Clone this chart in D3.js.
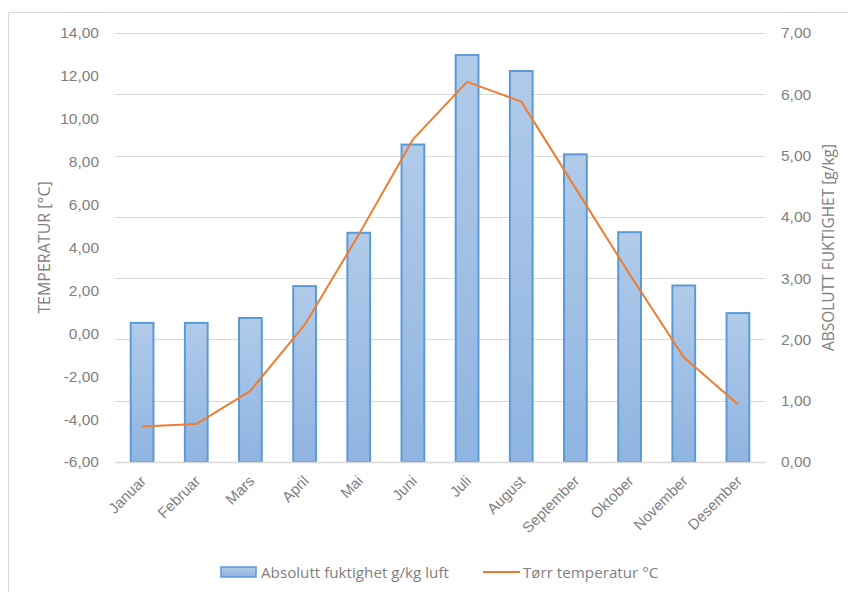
<!DOCTYPE html>
<html>
<head>
<meta charset="utf-8">
<script src="https://cdn.jsdelivr.net/npm/d3@7"></script>
<style>
  html, body { margin: 0; padding: 0; background: #fff; }
  svg { display: block; font-family: "Open Sans", "Noto Sans", sans-serif; }
</style>
</head>
<body>
<svg id="chart" width="848" height="592"></svg>
<script>
// Monthly climate data
const months = ["Januar", "Februar", "Mars", "April", "Mai", "Juni", "Juli",
                "August", "September", "Oktober", "November", "Desember"];
// Absolute humidity, g/kg air (right axis)
const humidity = [2.27, 2.27, 2.35, 2.87, 3.74, 5.18, 6.64, 6.38, 5.02, 3.75, 2.88, 2.43];
// Dry-bulb temperature, °C (left axis)
const temperature = [-4.35, -4.23, -2.68, 0.39, 4.6, 9.04, 11.72, 10.8, 6.78, 2.75, -1.12, -3.31];
// Axis ticks
const leftTicks = [-6, -4, -2, 0, 2, 4, 6, 8, 10, 12, 14];
const rightTicks = [0, 1, 2, 3, 4, 5, 6, 7];

const seriesNames = ["Absolutt fuktighet g/kg luft", "Tørr temperatur °C"];
const axisTitles = ["TEMPERATUR [°C]", "ABSOLUTT FUKTIGHET [g/kg]"];

const fmt = v => d3.format(".2f")(v).replace(".", ",").replace("−", "-");

const svg = d3.select("#chart");
const plot = { left: 115, right: 765, top: 33, bottom: 462 };
const textColor = "#7f7f7f";
const gridColor = "#d9d9d9";

// Outer chart frame
svg.append("rect")
  .attr("x", 8.5).attr("y", 12.5)
  .attr("width", 860).attr("height", 600)
  .attr("fill", "#fff").attr("stroke", "#d9d9d9").attr("stroke-width", 1);

const x = d3.scaleBand().domain(months).range([plot.left, plot.right]).padding(0);
const yL = d3.scaleLinear().domain([-6, 14]).range([plot.bottom, plot.top]);
const yR = d3.scaleLinear().domain([0, 7]).range([plot.bottom, plot.top]);

// Gradient for the bars
const defs = svg.append("defs");
const grad = defs.append("linearGradient")
  .attr("id", "barGrad").attr("x1", 0).attr("y1", 0).attr("x2", 0).attr("y2", 1);
grad.append("stop").attr("offset", "0%").attr("stop-color", "#b1cbe9");
grad.append("stop").attr("offset", "100%").attr("stop-color", "#8fb4e1");

// Horizontal gridlines follow the right axis ticks
svg.append("g")
  .selectAll("line")
  .data(rightTicks)
  .join("line")
  .attr("x1", plot.left).attr("x2", plot.right)
  .attr("y1", d => Math.round(yR(d)) + 0.5).attr("y2", d => Math.round(yR(d)) + 0.5)
  .attr("stroke", gridColor).attr("stroke-width", 1);

// Left axis
const leftAxis = svg.append("g")
  .attr("transform", `translate(${plot.left - 16},0)`)
  .call(d3.axisLeft(yL).tickValues(leftTicks).tickFormat(fmt).tickSize(0).tickPadding(0));
leftAxis.select(".domain").remove();
leftAxis.selectAll("text").attr("fill", textColor).style("font-size", "15.5px");

// Right axis
const rightAxis = svg.append("g")
  .attr("transform", `translate(${plot.right + 16},0)`)
  .call(d3.axisRight(yR).tickValues(rightTicks).tickFormat(fmt).tickSize(0).tickPadding(0));
rightAxis.select(".domain").remove();
rightAxis.selectAll("text").attr("fill", textColor).style("font-size", "15.5px");

// Bars (humidity)
const barW = x.bandwidth() * 0.42;
svg.append("g")
  .selectAll("rect")
  .data(months)
  .join("rect")
  .attr("x", (d) => x(d) + (x.bandwidth() - barW) / 2)
  .attr("y", (d, i) => yR(humidity[i]))
  .attr("width", barW)
  .attr("height", (d, i) => yR(0) - yR(humidity[i]))
  .attr("fill", "url(#barGrad)")
  .attr("stroke", "#5b9bd5").attr("stroke-width", 2);

// Category axis
const bottomAxis = svg.append("g")
  .attr("transform", `translate(0,${plot.bottom})`)
  .call(d3.axisBottom(x).tickSize(0).tickPadding(0));
bottomAxis.select(".domain").attr("stroke", gridColor).attr("stroke-width", 1.5);
bottomAxis.selectAll("text")
  .attr("fill", textColor).style("font-size", "15px")
  .attr("text-anchor", "end")
  .attr("dy", null).attr("y", 0)
  .attr("transform", "translate(5,20) rotate(-45)");

// Temperature line
const line = d3.line()
  .x((d, i) => x(months[i]) + x.bandwidth() / 2)
  .y(d => yL(d));
svg.append("path")
  .datum(temperature)
  .attr("d", line)
  .attr("fill", "none")
  .attr("stroke", "#ed7d31").attr("stroke-width", 2)
  .attr("stroke-linejoin", "round");

// Axis titles
svg.append("text")
  .attr("transform", `translate(50,${(plot.top + plot.bottom) / 2}) rotate(-90)`)
  .attr("text-anchor", "middle")
  .attr("fill", textColor).style("font-size", "16px")
  .text(axisTitles[0]);
svg.append("text")
  .attr("transform", `translate(834,${(plot.top + plot.bottom) / 2}) rotate(-90)`)
  .attr("text-anchor", "middle")
  .attr("fill", textColor).style("font-size", "15.5px")
  .text(axisTitles[1]);

// Legend
const legend = svg.append("g");
legend.append("rect")
  .attr("x", 221).attr("y", 567).attr("width", 35).attr("height", 10)
  .attr("fill", "url(#barGrad)").attr("stroke", "#5b9bd5").attr("stroke-width", 1.5);
legend.append("text")
  .attr("x", 261).attr("y", 577.5)
  .attr("fill", textColor).style("font-size", "15.2px")
  .text(seriesNames[0]);
legend.append("line")
  .attr("x1", 483).attr("x2", 520).attr("y1", 572).attr("y2", 572)
  .attr("stroke", "#ed7d31").attr("stroke-width", 2);
legend.append("text")
  .attr("x", 523).attr("y", 577.5)
  .attr("fill", textColor).style("font-size", "15.2px")
  .text(seriesNames[1]);
</script>
</body>
</html>
